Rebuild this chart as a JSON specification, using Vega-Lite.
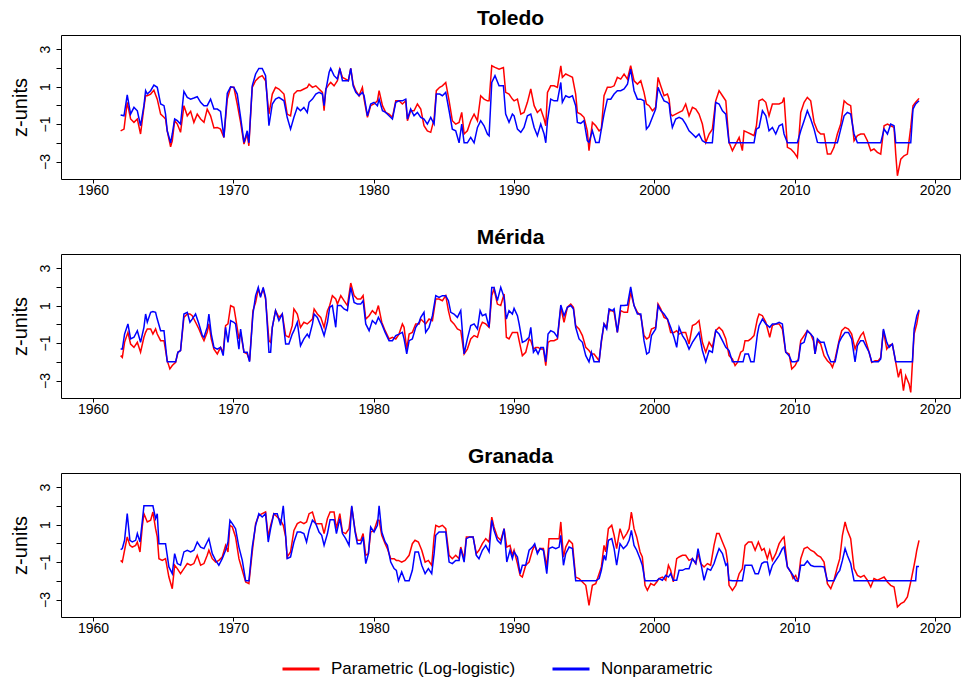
{
"$schema": "https://vega.github.io/schema/vega-lite/v6.json",
"padding": {"left": 9, "top": 7, "right": 0, "bottom": 0},
"config": {
"font": "Liberation Sans",
"view": {"stroke": "#000000", "strokeWidth": 1},
"axis": {"domain": false, "grid": false, "tickColor": "#000000", "tickSize": 5, "labelColor": "#000000", "labelFontSize": 14, "titleColor": "#000000", "labelOverlap": false},
"title": {"fontSize": 21, "fontWeight": "bold", "color": "#000000", "offset": 6, "anchor": "middle"}
},
"datasets": {
"toledo": [
{"t":1961.97,"p":-1.36,"n":-0.52},{"t":1962.21,"p":-1.27,"n":-0.56},{"t":1962.44,"p":0.16,"n":0.56},{"t":1962.68,"p":-0.73,"n":-0.47},{"t":1962.92,"p":-0.91,"n":-0.11},{"t":1963.16,"p":-0.73,"n":-0.29},{"t":1963.39,"p":-1.53,"n":-1.09},{"t":1963.63,"p":-0.11,"n":-0.02},{"t":1963.75,"p":0.51,"n":0.78},{"t":1963.87,"p":0.51,"n":0.6},{"t":1964.11,"p":0.6,"n":0.78},{"t":1964.34,"p":0.81,"n":1.08},{"t":1964.58,"p":0.33,"n":0.96},{"t":1964.82,"p":-0.47,"n":0.07},{"t":1965.06,"p":-0.64,"n":-0.02},{"t":1965.17,"p":-0.73,"n":-0.47},{"t":1965.29,"p":-1.36,"n":-1.36},{"t":1965.53,"p":-2.21,"n":-2.0},{"t":1965.65,"p":-1.89,"n":-1.53},{"t":1965.82,"p":-0.82,"n":-0.73},{"t":1966.01,"p":-1.0,"n":-0.82},{"t":1966.24,"p":-1.44,"n":-1.0},{"t":1966.48,"p":-0.02,"n":0.74},{"t":1966.72,"p":-0.56,"n":0.42},{"t":1966.96,"p":-0.32,"n":0.33},{"t":1967.19,"p":-0.91,"n":0.39},{"t":1967.43,"p":-0.47,"n":0.46},{"t":1967.67,"p":-0.73,"n":0.16},{"t":1967.91,"p":-0.91,"n":-0.02},{"t":1968.14,"p":-0.2,"n":-0.02},{"t":1968.38,"p":-0.56,"n":0.33},{"t":1968.62,"p":-1.21,"n":-0.2},{"t":1968.86,"p":-1.18,"n":-0.2},{"t":1969.09,"p":-1.27,"n":-0.32},{"t":1969.33,"p":-1.71,"n":-1.71},{"t":1969.57,"p":0.33,"n":0.64},{"t":1969.81,"p":0.96,"n":0.99},{"t":1970.04,"p":0.96,"n":0.96},{"t":1970.28,"p":0.07,"n":0.6},{"t":1970.52,"p":-0.91,"n":-0.64},{"t":1970.76,"p":-2.07,"n":-1.98},{"t":1970.99,"p":-1.53,"n":-1.36},{"t":1971.11,"p":-2.16,"n":-2.0},{"t":1971.35,"p":0.96,"n":1.04},{"t":1971.59,"p":1.31,"n":1.67},{"t":1971.82,"p":1.49,"n":1.97},{"t":1972.06,"p":1.58,"n":1.97},{"t":1972.3,"p":1.31,"n":1.58},{"t":1972.54,"p":-0.47,"n":-1.09},{"t":1972.78,"p":0.6,"n":0.07},{"t":1973.01,"p":0.96,"n":0.33},{"t":1973.25,"p":0.87,"n":0.42},{"t":1973.61,"p":0.6,"n":0.24},{"t":1973.84,"p":-0.47,"n":-0.64},{"t":1974.08,"p":-0.56,"n":-1.27},{"t":1974.32,"p":0.6,"n":-0.64},{"t":1974.56,"p":0.78,"n":-0.11},{"t":1974.79,"p":0.78,"n":-0.29},{"t":1975.03,"p":0.87,"n":-0.11},{"t":1975.27,"p":0.96,"n":-0.38},
{"t":1975.4,"p":1.13,"n":0.16},{"t":1975.64,"p":0.96,"n":0.33},{"t":1975.88,"p":1.04,"n":0.6},{"t":1976.11,"p":0.87,"n":0.69},{"t":1976.35,"p":0.69,"n":0.6},{"t":1976.47,"p":-0.29,"n":-0.02},{"t":1976.59,"p":0.87,"n":0.78},{"t":1976.83,"p":1.13,"n":1.76},{"t":1976.94,"p":1.22,"n":1.97},{"t":1977.18,"p":1.04,"n":1.58},{"t":1977.42,"p":1.31,"n":1.4},{"t":1977.59,"p":1.93,"n":1.97},{"t":1977.78,"p":1.49,"n":1.31},{"t":1978.01,"p":1.4,"n":1.31},{"t":1978.2,"p":1.31,"n":1.31},{"t":1978.37,"p":1.97,"n":1.97},{"t":1978.54,"p":1.13,"n":1.04},{"t":1978.73,"p":0.78,"n":0.69},{"t":1978.96,"p":0.51,"n":0.51},{"t":1979.2,"p":0.96,"n":0.69},{"t":1979.32,"p":0.33,"n":0.51},{"t":1979.56,"p":-0.64,"n":-0.56},{"t":1979.79,"p":-0.02,"n":0.07},{"t":1980.03,"p":0.07,"n":0.16},{"t":1980.27,"p":0.24,"n":-0.02},{"t":1980.39,"p":0.78,"n":0.33},{"t":1980.63,"p":-0.02,"n":-0.29},{"t":1980.86,"p":-0.38,"n":-0.38},{"t":1981.1,"p":-0.47,"n":-0.56},{"t":1981.34,"p":-0.64,"n":-0.73},{"t":1981.58,"p":0.24,"n":0.16},{"t":1981.81,"p":0.24,"n":0.24},{"t":1982.05,"p":0.07,"n":0.24},{"t":1982.29,"p":0.24,"n":0.33},{"t":1982.41,"p":-0.82,"n":-0.73},{"t":1982.64,"p":-0.29,"n":-0.2},{"t":1982.88,"p":-0.29,"n":-0.56},{"t":1983.12,"p":0.07,"n":-0.38},{"t":1983.36,"p":-0.2,"n":-0.64},{"t":1983.59,"p":-1.09,"n":-0.73},{"t":1983.83,"p":-1.36,"n":-1.0},{"t":1984.07,"p":-1.44,"n":-0.64},{"t":1984.31,"p":-0.73,"n":-1.0},{"t":1984.47,"p":0.78,"n":0.6},{"t":1984.71,"p":0.96,"n":0.6},{"t":1984.9,"p":1.04,"n":0.51},{"t":1985.14,"p":1.22,"n":0.69},{"t":1985.38,"p":0.24,"n":-0.29},{"t":1985.61,"p":-0.82,"n":-1.27},{"t":1985.85,"p":-1.0,"n":-1.36},{"t":1986.09,"p":-0.91,"n":-2.0},{"t":1986.28,"p":-0.38,"n":-1.0},{"t":1986.45,"p":-1.53,"n":-2.0},{"t":1986.68,"p":-1.36,"n":-2.0},{"t":1986.92,"p":-0.82,"n":-1.71},{"t":1987.16,"p":-0.47,"n":-2.0},{"t":1987.4,"p":-0.82,"n":-1.18},{"t":1987.63,"p":0.51,"n":-0.82},{"t":1987.87,"p":0.33,"n":-1.09},{"t":1988.11,"p":0.24,"n":-1.53},{"t":1988.23,"p":0.24,"n":-1.62},{"t":1988.42,"p":2.11,"n":1.22},{"t":1988.65,"p":2.02,"n":1.58},{"t":1988.94,"p":1.93,"n":1.04},{"t":1989.25,"p":2.02,"n":1.04},{"t":1989.41,"p":0.69,"n":-0.47},{"t":1989.65,"p":0.6,"n":-0.91},{"t":1989.89,"p":0.33,"n":-0.47},
{"t":1990.01,"p":0.24,"n":-0.56},{"t":1990.25,"p":0.33,"n":-1.27},{"t":1990.49,"p":-0.47,"n":-1.44},{"t":1990.72,"p":-0.38,"n":-1.18},{"t":1990.96,"p":0.16,"n":-0.56},{"t":1991.2,"p":0.87,"n":-0.47},{"t":1991.44,"p":-0.02,"n":-1.18},{"t":1991.67,"p":-0.38,"n":-1.62},{"t":1991.91,"p":-0.2,"n":-1.0},{"t":1992.15,"p":-0.73,"n":-1.53},{"t":1992.27,"p":-1.09,"n":-2.0},{"t":1992.39,"p":0.69,"n":-0.82},{"t":1992.62,"p":1.04,"n":0.33},{"t":1992.86,"p":1.04,"n":0.24},{"t":1993.1,"p":0.96,"n":0.24},{"t":1993.34,"p":2.11,"n":1.22},{"t":1993.45,"p":1.49,"n":0.16},{"t":1993.69,"p":1.67,"n":0.51},{"t":1993.93,"p":1.58,"n":0.42},{"t":1994.17,"p":1.49,"n":0.51},{"t":1994.4,"p":0.6,"n":-0.02},{"t":1994.52,"p":-0.38,"n":-0.91},{"t":1994.76,"p":-0.47,"n":-0.96},{"t":1994.99,"p":-0.64,"n":-0.82},{"t":1995.23,"p":-1.36,"n":-1.89},{"t":1995.35,"p":-2.42,"n":-1.98},{"t":1995.59,"p":-0.91,"n":-1.36},{"t":1995.83,"p":-1.09,"n":-1.98},{"t":1996.07,"p":-1.36,"n":-1.98},{"t":1996.23,"p":-1.27,"n":-1.27},{"t":1996.42,"p":0.51,"n":-0.47},{"t":1996.66,"p":0.96,"n":0.33},{"t":1996.9,"p":0.96,"n":0.33},{"t":1997.14,"p":1.04,"n":0.6},{"t":1997.37,"p":1.49,"n":0.78},{"t":1997.61,"p":1.4,"n":0.78},{"t":1997.85,"p":1.67,"n":0.87},{"t":1998.09,"p":1.4,"n":1.13},{"t":1998.32,"p":2.11,"n":1.93},{"t":1998.56,"p":1.31,"n":0.78},{"t":1998.8,"p":1.13,"n":0.33},{"t":1999.04,"p":1.31,"n":0.33},{"t":1999.27,"p":0.69,"n":0.24},{"t":1999.44,"p":0.07,"n":-1.27},{"t":1999.63,"p":-0.02,"n":-1.09},{"t":1999.87,"p":-0.29,"n":-0.64},{"t":2000.1,"p":-0.11,"n":-0.2},{"t":2000.27,"p":1.49,"n":0.96},{"t":2000.46,"p":1.04,"n":0.6},{"t":2000.7,"p":0.51,"n":0.24},{"t":2000.94,"p":0.6,"n":0.16},{"t":2001.06,"p":0.33,"n":0.07},{"t":2001.17,"p":-0.47,"n":-0.64},{"t":2001.29,"p":-0.56,"n":-1.18},{"t":2001.53,"p":-0.47,"n":-0.73},{"t":2001.77,"p":-0.38,"n":-0.64},{"t":2002.01,"p":-0.29,"n":-0.73},{"t":2002.24,"p":0.07,"n":-1.0},{"t":2002.48,"p":-0.56,"n":-1.36},{"t":2002.72,"p":-0.11,"n":-1.53},{"t":2002.96,"p":-0.2,"n":-1.71},{"t":2003.19,"p":-0.47,"n":-1.53},{"t":2003.43,"p":-1.0,"n":-1.89},{"t":2003.67,"p":-1.98,"n":-2.0},{"t":2003.91,"p":-1.53,"n":-2.0},{"t":2004.14,"p":-1.27,"n":-2.0},{"t":2004.38,"p":0.24,"n":0.16},
{"t":2004.62,"p":0.78,"n":0.07},{"t":2004.86,"p":0.51,"n":-0.29},{"t":2005.1,"p":0.24,"n":-0.47},{"t":2005.33,"p":-1.98,"n":-2.0},{"t":2005.57,"p":-2.42,"n":-2.0},{"t":2005.81,"p":-2.07,"n":-2.0},{"t":2006.05,"p":-1.71,"n":-2.0},{"t":2006.28,"p":-2.42,"n":-2.0},{"t":2006.4,"p":-1.36,"n":-2.0},{"t":2006.64,"p":-1.44,"n":-2.0},{"t":2006.88,"p":-1.53,"n":-2.0},{"t":2007.11,"p":-1.62,"n":-2.0},{"t":2007.28,"p":-1.09,"n":-1.27},{"t":2007.47,"p":0.24,"n":-1.18},{"t":2007.71,"p":0.33,"n":-0.29},{"t":2007.95,"p":0.16,"n":-0.56},{"t":2008.18,"p":-0.56,"n":-1.36},{"t":2008.42,"p":0.07,"n":-1.18},{"t":2008.66,"p":0.07,"n":-1.53},{"t":2008.9,"p":0.07,"n":-1.09},{"t":2009.13,"p":0.16,"n":-1.0},{"t":2009.25,"p":0.42,"n":-1.53},{"t":2009.49,"p":-2.24,"n":-2.0},{"t":2009.73,"p":-2.33,"n":-2.0},{"t":2009.96,"p":-2.51,"n":-2.0},{"t":2010.2,"p":-2.78,"n":-2.0},{"t":2010.44,"p":-0.38,"n":-1.36},{"t":2010.68,"p":0.16,"n":-0.82},{"t":2010.91,"p":0.42,"n":-0.29},{"t":2011.15,"p":0.24,"n":-0.73},{"t":2011.39,"p":-0.91,"n":-1.27},{"t":2011.63,"p":-1.36,"n":-1.98},{"t":2011.86,"p":-1.53,"n":-2.0},{"t":2012.1,"p":-1.53,"n":-2.0},{"t":2012.34,"p":-2.6,"n":-2.0},{"t":2012.58,"p":-2.6,"n":-2.0},{"t":2012.81,"p":-2.24,"n":-2.0},{"t":2013.05,"p":-1.53,"n":-2.0},{"t":2013.29,"p":-1.0,"n":-1.27},{"t":2013.53,"p":0.24,"n":-0.56},{"t":2013.76,"p":0.07,"n":-0.38},{"t":2014.0,"p":-0.02,"n":-0.47},{"t":2014.24,"p":-1.89,"n":-1.53},{"t":2014.48,"p":-1.62,"n":-2.0},{"t":2014.71,"p":-1.53,"n":-2.0},{"t":2014.95,"p":-1.53,"n":-2.0},{"t":2015.19,"p":-1.89,"n":-2.0},{"t":2015.43,"p":-2.42,"n":-2.0},{"t":2015.66,"p":-2.33,"n":-2.0},{"t":2015.9,"p":-2.51,"n":-2.0},{"t":2016.14,"p":-2.6,"n":-2.0},{"t":2016.38,"p":-1.09,"n":-1.27},{"t":2016.62,"p":-1.0,"n":-1.53},{"t":2016.85,"p":-1.09,"n":-1.0},{"t":2017.09,"p":-1.18,"n":-1.09},{"t":2017.21,"p":-2.6,"n":-2.0},{"t":2017.33,"p":-3.76,"n":-2.0},{"t":2017.57,"p":-2.87,"n":-2.0},{"t":2017.8,"p":-2.69,"n":-2.0},{"t":2018.04,"p":-2.6,"n":-2.0},{"t":2018.28,"p":-1.18,"n":-2.0},{"t":2018.44,"p":-0.02,"n":-0.2},{"t":2018.63,"p":0.16,"n":0.07},{"t":2018.87,"p":0.37,"n":0.24}
],
"merida": [
{"t":1961.97,"p":-1.67,"n":-1.32},{"t":1962.09,"p":-1.76,"n":-1.32},{"t":1962.25,"p":-0.96,"n":-0.52},{"t":1962.49,"p":-0.43,"n":0.02},{"t":1962.68,"p":-1.05,"n":-0.78},{"t":1962.92,"p":-1.23,"n":-0.69},{"t":1963.16,"p":-0.96,"n":-0.34},{"t":1963.39,"p":-1.49,"n":-0.96},{"t":1963.63,"p":-0.69,"n":-0.16},{"t":1963.75,"p":-0.43,"n":0.55},{"t":1963.87,"p":-0.25,"n":0.11},{"t":1964.11,"p":-0.25,"n":0.64},{"t":1964.27,"p":-0.52,"n":0.68},{"t":1964.46,"p":-0.25,"n":0.64},{"t":1964.58,"p":-0.52,"n":0.28},{"t":1964.82,"p":-0.87,"n":-0.34},{"t":1965.06,"p":-0.87,"n":-0.34},{"t":1965.29,"p":-1.94,"n":-2.0},{"t":1965.48,"p":-2.38,"n":-2.0},{"t":1965.65,"p":-2.2,"n":-2.0},{"t":1965.89,"p":-2.03,"n":-2.0},{"t":1966.05,"p":-1.49,"n":-1.49},{"t":1966.24,"p":-1.4,"n":-1.4},{"t":1966.48,"p":0.37,"n":0.55},{"t":1966.72,"p":0.55,"n":0.64},{"t":1966.91,"p":0.55,"n":0.11},{"t":1967.07,"p":0.46,"n":0.28},{"t":1967.31,"p":0.11,"n":0.55},{"t":1967.55,"p":-0.25,"n":0.02},{"t":1967.79,"p":-0.69,"n":-0.6},{"t":1967.91,"p":-0.87,"n":-0.69},{"t":1968.14,"p":-0.43,"n":-0.16},{"t":1968.26,"p":0.02,"n":0.55},{"t":1968.43,"p":-0.78,"n":-0.52},{"t":1968.62,"p":-1.32,"n":-1.23},{"t":1968.86,"p":-1.58,"n":-1.32},{"t":1969.09,"p":-1.23,"n":-1.23},{"t":1969.28,"p":-1.49,"n":-1.67},{"t":1969.45,"p":-0.07,"n":-0.16},{"t":1969.62,"p":0.02,"n":-0.96},{"t":1969.81,"p":1.0,"n":0.2},{"t":1970.04,"p":0.91,"n":0.11},{"t":1970.16,"p":0.37,"n":0.02},{"t":1970.4,"p":-0.78,"n":-1.32},{"t":1970.52,"p":-0.43,"n":-0.25},{"t":1970.76,"p":-1.49,"n":-1.49},{"t":1970.99,"p":-1.58,"n":-1.49},{"t":1971.16,"p":-1.94,"n":-2.0},{"t":1971.4,"p":0.73,"n":0.55},{"t":1971.59,"p":1.17,"n":1.53},{"t":1971.78,"p":1.88,"n":1.97},{"t":1971.94,"p":1.53,"n":1.44},{"t":1972.13,"p":1.88,"n":1.97},{"t":1972.3,"p":1.35,"n":1.44},{"t":1972.54,"p":-0.87,"n":-1.49},{"t":1972.66,"p":-0.96,"n":-1.49},{"t":1972.78,"p":-0.16,"n":-0.16},{"t":1973.01,"p":0.73,"n":0.73},{"t":1973.25,"p":0.37,"n":0.2},{"t":1973.49,"p":0.55,"n":0.55},{"t":1973.73,"p":-0.6,"n":-1.05},{"t":1973.96,"p":-0.69,"n":-1.05},{"t":1974.2,"p":-0.07,"n":-0.52},{"t":1974.32,"p":0.82,"n":-0.34},{"t":1974.56,"p":0.55,"n":0.11},{"t":1974.79,"p":-0.16,"n":-1.14},{"t":1975.03,"p":0.11,"n":-0.78},{"t":1975.27,"p":0.02,"n":-0.52},
{"t":1975.4,"p":0.11,"n":-0.69},{"t":1975.64,"p":0.28,"n":0.02},{"t":1975.76,"p":0.82,"n":0.55},{"t":1975.99,"p":0.55,"n":0.37},{"t":1976.23,"p":0.37,"n":-0.07},{"t":1976.47,"p":-0.16,"n":-0.6},{"t":1976.71,"p":0.73,"n":0.11},{"t":1976.87,"p":1.0,"n":0.91},{"t":1977.06,"p":1.53,"n":1.0},{"t":1977.3,"p":1.35,"n":-0.16},{"t":1977.42,"p":1.08,"n":1.0},{"t":1977.66,"p":1.53,"n":1.0},{"t":1977.89,"p":1.26,"n":0.82},{"t":1978.13,"p":1.0,"n":0.73},{"t":1978.37,"p":2.2,"n":1.97},{"t":1978.61,"p":1.53,"n":1.17},{"t":1978.84,"p":1.35,"n":1.08},{"t":1979.08,"p":1.35,"n":1.08},{"t":1979.25,"p":1.53,"n":1.26},{"t":1979.44,"p":0.28,"n":0.02},{"t":1979.68,"p":0.46,"n":-0.34},{"t":1979.91,"p":0.73,"n":0.2},{"t":1980.15,"p":0.55,"n":0.02},{"t":1980.34,"p":1.0,"n":0.37},{"t":1980.58,"p":0.11,"n":0.02},{"t":1980.82,"p":-0.34,"n":-0.43},{"t":1981.1,"p":-0.78,"n":-0.87},{"t":1981.34,"p":-0.69,"n":-0.87},{"t":1981.58,"p":-0.78,"n":-0.6},{"t":1981.81,"p":-0.52,"n":-0.52},{"t":1982.05,"p":0.02,"n":-0.43},{"t":1982.17,"p":-0.16,"n":-0.78},{"t":1982.36,"p":-1.32,"n":-1.58},{"t":1982.53,"p":-0.52,"n":-0.87},{"t":1982.76,"p":-0.43,"n":-0.78},{"t":1983.0,"p":0.02,"n":-0.16},{"t":1983.24,"p":0.02,"n":0.11},{"t":1983.36,"p":0.28,"n":0.37},{"t":1983.59,"p":0.11,"n":0.64},{"t":1983.71,"p":0.02,"n":-0.43},{"t":1983.95,"p":0.28,"n":-0.16},{"t":1984.19,"p":0.2,"n":0.46},{"t":1984.43,"p":1.35,"n":1.53},{"t":1984.66,"p":1.35,"n":1.44},{"t":1984.9,"p":1.26,"n":1.53},{"t":1985.14,"p":1.53,"n":1.53},{"t":1985.33,"p":0.73,"n":1.26},{"t":1985.5,"p":0.2,"n":0.64},{"t":1985.73,"p":0.02,"n":0.55},{"t":1985.97,"p":-0.25,"n":0.37},{"t":1986.21,"p":-0.34,"n":0.73},{"t":1986.45,"p":-1.58,"n":-1.58},{"t":1986.68,"p":-1.32,"n":-0.78},{"t":1986.92,"p":-0.78,"n":-0.07},{"t":1987.16,"p":-0.6,"n":0.02},{"t":1987.4,"p":-0.69,"n":-0.25},{"t":1987.59,"p":-0.16,"n":0.73},{"t":1987.75,"p":0.11,"n":0.46},{"t":1987.99,"p":0.02,"n":0.55},{"t":1988.23,"p":-0.16,"n":-0.16},{"t":1988.42,"p":1.53,"n":1.97},{"t":1988.58,"p":1.88,"n":1.97},{"t":1988.82,"p":1.08,"n":1.26},{"t":1989.06,"p":1.0,"n":1.97},{"t":1989.3,"p":1.62,"n":1.44},{"t":1989.46,"p":-0.69,"n":0.28},{"t":1989.65,"p":-0.78,"n":0.73},{"t":1989.89,"p":-0.43,"n":0.55},
{"t":1990.01,"p":-0.43,"n":0.85},{"t":1990.25,"p":-0.43,"n":0.46},{"t":1990.37,"p":-0.87,"n":0.02},{"t":1990.6,"p":-1.67,"n":-0.96},{"t":1990.84,"p":-1.49,"n":-0.87},{"t":1991.08,"p":-0.78,"n":-0.69},{"t":1991.2,"p":-0.87,"n":-0.16},{"t":1991.39,"p":-1.32,"n":-1.49},{"t":1991.55,"p":-1.23,"n":-1.32},{"t":1991.72,"p":-1.23,"n":-1.58},{"t":1991.91,"p":-1.32,"n":-1.23},{"t":1992.1,"p":-1.32,"n":-1.23},{"t":1992.27,"p":-2.2,"n":-2.0},{"t":1992.43,"p":-0.96,"n":-0.52},{"t":1992.62,"p":-0.87,"n":-0.34},{"t":1992.86,"p":-0.87,"n":-0.43},{"t":1993.1,"p":-0.78,"n":-0.69},{"t":1993.34,"p":0.91,"n":1.03},{"t":1993.57,"p":0.11,"n":0.46},{"t":1993.81,"p":0.91,"n":0.91},{"t":1994.05,"p":1.08,"n":1.0},{"t":1994.24,"p":0.91,"n":0.82},{"t":1994.4,"p":-0.07,"n":-0.16},{"t":1994.64,"p":-0.25,"n":-0.78},{"t":1994.88,"p":-0.6,"n":-0.96},{"t":1995.12,"p":-1.23,"n":-1.67},{"t":1995.35,"p":-1.4,"n":-2.0},{"t":1995.52,"p":-1.58,"n":-1.49},{"t":1995.71,"p":-1.58,"n":-2.0},{"t":1996.07,"p":-1.94,"n":-2.0},{"t":1996.23,"p":-0.96,"n":-0.87},{"t":1996.42,"p":0.02,"n":0.02},{"t":1996.61,"p":-0.16,"n":-0.25},{"t":1996.78,"p":0.73,"n":0.82},{"t":1997.02,"p":0.73,"n":0.73},{"t":1997.14,"p":0.64,"n":0.82},{"t":1997.37,"p":-0.43,"n":-0.43},{"t":1997.61,"p":0.73,"n":1.0},{"t":1997.85,"p":0.64,"n":1.0},{"t":1998.09,"p":0.64,"n":1.03},{"t":1998.32,"p":1.71,"n":2.0},{"t":1998.56,"p":1.0,"n":1.0},{"t":1998.8,"p":0.64,"n":0.55},{"t":1999.04,"p":0.46,"n":0.55},{"t":1999.27,"p":-0.6,"n":-0.87},{"t":1999.46,"p":-0.78,"n":-1.58},{"t":1999.63,"p":-0.69,"n":-1.49},{"t":1999.8,"p":-0.25,"n":-0.6},{"t":2000.1,"p":-0.16,"n":-0.25},{"t":2000.27,"p":1.08,"n":1.0},{"t":2000.46,"p":0.82,"n":0.73},{"t":2000.7,"p":0.37,"n":0.55},{"t":2000.94,"p":0.28,"n":0.28},{"t":2001.17,"p":-0.43,"n":-0.16},{"t":2001.41,"p":-0.43,"n":-0.69},{"t":2001.6,"p":-0.34,"n":-1.23},{"t":2001.77,"p":-0.52,"n":-0.16},{"t":2002.01,"p":-0.43,"n":-0.6},{"t":2002.24,"p":-0.43,"n":-0.87},{"t":2002.48,"p":-1.05,"n":-1.32},{"t":2002.72,"p":-0.07,"n":-0.96},{"t":2002.96,"p":0.02,"n":-0.69},{"t":2003.19,"p":0.2,"n":-0.43},{"t":2003.43,"p":-0.96,"n":-1.4},{"t":2003.67,"p":-1.49,"n":-2.0},{"t":2003.91,"p":-0.96,"n":-1.4},{"t":2004.14,"p":-1.23,"n":-1.49},{"t":2004.38,"p":-0.34,"n":-0.34},
{"t":2004.62,"p":-0.16,"n":-0.52},{"t":2004.86,"p":-0.34,"n":-0.87},{"t":2005.1,"p":-0.78,"n":-1.23},{"t":2005.33,"p":-1.67,"n":-1.4},{"t":2005.57,"p":-1.85,"n":-2.0},{"t":2005.76,"p":-2.2,"n":-2.0},{"t":2005.93,"p":-2.03,"n":-2.0},{"t":2006.16,"p":-1.49,"n":-2.0},{"t":2006.33,"p":-1.4,"n":-2.0},{"t":2006.47,"p":-0.87,"n":-1.58},{"t":2006.71,"p":-0.87,"n":-1.58},{"t":2006.88,"p":-0.78,"n":-2.0},{"t":2007.11,"p":-0.6,"n":-2.0},{"t":2007.35,"p":0.28,"n":-0.52},{"t":2007.47,"p":0.55,"n":-0.07},{"t":2007.71,"p":0.46,"n":0.28},{"t":2007.95,"p":0.11,"n":0.02},{"t":2008.23,"p":-0.69,"n":-0.16},{"t":2008.42,"p":-0.07,"n":0.02},{"t":2008.66,"p":0.02,"n":0.02},{"t":2008.9,"p":0.02,"n":0.11},{"t":2009.13,"p":-0.25,"n":0.02},{"t":2009.37,"p":-1.49,"n":-1.49},{"t":2009.61,"p":-1.58,"n":-1.67},{"t":2009.8,"p":-2.38,"n":-2.0},{"t":2010.04,"p":-2.2,"n":-2.0},{"t":2010.27,"p":-1.85,"n":-1.94},{"t":2010.44,"p":-0.87,"n":-1.05},{"t":2010.68,"p":-0.6,"n":-0.96},{"t":2010.91,"p":-0.34,"n":-0.34},{"t":2011.15,"p":-0.52,"n":-0.52},{"t":2011.34,"p":-0.87,"n":-0.69},{"t":2011.46,"p":-1.58,"n":-1.58},{"t":2011.63,"p":-0.87,"n":-0.78},{"t":2011.86,"p":-1.05,"n":-0.96},{"t":2012.1,"p":-1.67,"n":-0.96},{"t":2012.34,"p":-1.94,"n":-1.58},{"t":2012.58,"p":-2.12,"n":-2.0},{"t":2012.7,"p":-2.29,"n":-2.0},{"t":2012.89,"p":-1.85,"n":-2.0},{"t":2013.17,"p":-0.87,"n":-0.96},{"t":2013.36,"p":-0.34,"n":-0.69},{"t":2013.6,"p":-0.16,"n":-0.43},{"t":2013.84,"p":-0.25,"n":-0.43},{"t":2014.07,"p":-0.52,"n":-0.78},{"t":2014.31,"p":-1.32,"n":-2.0},{"t":2014.48,"p":-0.96,"n":-1.14},{"t":2014.71,"p":-0.6,"n":-0.87},{"t":2014.9,"p":-0.43,"n":-0.87},{"t":2015.07,"p":-0.87,"n":-1.14},{"t":2015.31,"p":-1.49,"n":-1.49},{"t":2015.5,"p":-2.03,"n":-2.0},{"t":2015.74,"p":-1.94,"n":-2.0},{"t":2015.97,"p":-1.94,"n":-2.0},{"t":2016.14,"p":-1.76,"n":-1.85},{"t":2016.33,"p":-0.34,"n":-0.25},{"t":2016.57,"p":-1.32,"n":-0.96},{"t":2016.73,"p":-1.14,"n":-1.23},{"t":2016.97,"p":-1.05,"n":-1.05},{"t":2017.21,"p":-2.03,"n":-2.0},{"t":2017.4,"p":-2.83,"n":-2.0},{"t":2017.57,"p":-2.38,"n":-2.0},{"t":2017.76,"p":-3.54,"n":-2.0},{"t":2017.92,"p":-2.74,"n":-2.0},{"t":2018.16,"p":-3.18,"n":-2.0},{"t":2018.28,"p":-3.63,"n":-2.0},{"t":2018.4,"p":-2.03,"n":-2.0},{"t":2018.52,"p":-0.52,"n":-0.25},{"t":2018.71,"p":0.02,"n":0.46},{"t":2018.87,"p":0.73,"n":0.78}
],
"granada": [
{"t":1961.97,"p":-0.91,"n":-0.34},{"t":1962.09,"p":-1.0,"n":-0.28},{"t":1962.25,"p":-0.37,"n":0.16},{"t":1962.44,"p":0.34,"n":1.58},{"t":1962.63,"p":-0.11,"n":0.16},{"t":1962.8,"p":-0.2,"n":0.07},{"t":1963.04,"p":-0.11,"n":0.16},{"t":1963.16,"p":0.07,"n":0.52},{"t":1963.35,"p":-0.46,"n":0.07},{"t":1963.51,"p":0.87,"n":1.14},{"t":1963.63,"p":1.58,"n":2.0},{"t":1963.87,"p":1.14,"n":2.0},{"t":1964.11,"p":1.23,"n":2.0},{"t":1964.27,"p":1.67,"n":2.0},{"t":1964.46,"p":0.78,"n":1.32},{"t":1964.58,"p":0.34,"n":1.58},{"t":1964.7,"p":-0.82,"n":-0.02},{"t":1964.94,"p":-0.91,"n":-0.02},{"t":1965.17,"p":-0.82,"n":-0.02},{"t":1965.41,"p":-1.8,"n":-1.26},{"t":1965.65,"p":-2.42,"n":-1.62},{"t":1965.82,"p":-1.17,"n":-0.55},{"t":1966.01,"p":-1.35,"n":-1.08},{"t":1966.24,"p":-1.62,"n":-1.17},{"t":1966.48,"p":-1.35,"n":-0.46},{"t":1966.72,"p":-1.08,"n":-0.37},{"t":1966.96,"p":-1.17,"n":-0.46},{"t":1967.19,"p":-1.08,"n":-0.37},{"t":1967.43,"p":-0.64,"n":0.07},{"t":1967.67,"p":-1.17,"n":-0.2},{"t":1967.91,"p":-1.08,"n":-0.28},{"t":1968.14,"p":-0.64,"n":0.07},{"t":1968.26,"p":-0.37,"n":0.25},{"t":1968.5,"p":-0.82,"n":-0.55},{"t":1968.74,"p":-1.0,"n":-0.91},{"t":1968.97,"p":-0.91,"n":-1.17},{"t":1969.21,"p":-0.73,"n":-0.82},{"t":1969.45,"p":-0.11,"n":-0.37},{"t":1969.62,"p":-0.46,"n":0.07},{"t":1969.76,"p":0.96,"n":1.23},{"t":1969.93,"p":0.87,"n":1.05},{"t":1970.16,"p":0.34,"n":0.78},{"t":1970.4,"p":-0.82,"n":-0.2},{"t":1970.64,"p":-1.44,"n":-0.91},{"t":1970.88,"p":-2.06,"n":-2.0},{"t":1971.11,"p":-2.15,"n":-2.0},{"t":1971.35,"p":-0.46,"n":-0.2},{"t":1971.59,"p":1.05,"n":0.96},{"t":1971.82,"p":1.49,"n":1.58},{"t":1972.06,"p":1.58,"n":1.4},{"t":1972.3,"p":1.67,"n":1.58},{"t":1972.49,"p":0.34,"n":0.07},{"t":1972.66,"p":0.96,"n":0.78},{"t":1972.89,"p":1.58,"n":1.58},{"t":1973.13,"p":1.4,"n":1.58},{"t":1973.37,"p":1.23,"n":0.96},{"t":1973.56,"p":0.96,"n":2.0},{"t":1973.73,"p":0.34,"n":0.43},{"t":1973.84,"p":-0.73,"n":-0.82},{"t":1974.08,"p":-0.46,"n":-0.73},{"t":1974.32,"p":0.69,"n":0.07},{"t":1974.56,"p":1.05,"n":0.6},{"t":1974.79,"p":1.14,"n":0.6},{"t":1975.03,"p":1.05,"n":0.52},{"t":1975.22,"p":1.14,"n":0.07},
{"t":1975.4,"p":1.58,"n":0.69},{"t":1975.64,"p":1.67,"n":1.23},{"t":1975.88,"p":1.05,"n":1.05},{"t":1976.11,"p":1.05,"n":0.6},{"t":1976.3,"p":1.05,"n":0.43},{"t":1976.47,"p":0.52,"n":-0.11},{"t":1976.71,"p":1.32,"n":0.52},{"t":1976.9,"p":1.67,"n":1.26},{"t":1977.18,"p":1.67,"n":1.26},{"t":1977.35,"p":0.78,"n":0.52},{"t":1977.59,"p":1.58,"n":1.32},{"t":1977.78,"p":0.6,"n":0.52},{"t":1978.01,"p":0.52,"n":0.25},{"t":1978.25,"p":0.78,"n":-0.11},{"t":1978.44,"p":1.94,"n":2.0},{"t":1978.68,"p":0.69,"n":0.6},{"t":1978.84,"p":0.16,"n":-0.02},{"t":1979.08,"p":0.16,"n":-0.02},{"t":1979.25,"p":0.52,"n":0.34},{"t":1979.44,"p":-0.64,"n":-1.08},{"t":1979.63,"p":-0.55,"n":-0.55},{"t":1979.79,"p":0.6,"n":0.87},{"t":1980.03,"p":0.69,"n":0.6},{"t":1980.27,"p":1.23,"n":0.96},{"t":1980.39,"p":1.23,"n":2.0},{"t":1980.58,"p":0.43,"n":0.6},{"t":1980.82,"p":-0.02,"n":0.07},{"t":1980.98,"p":-0.28,"n":-0.11},{"t":1981.22,"p":-0.82,"n":-1.0},{"t":1981.46,"p":-0.82,"n":-1.35},{"t":1981.62,"p":-0.91,"n":-1.44},{"t":1981.77,"p":-0.91,"n":-2.0},{"t":1982.0,"p":-1.0,"n":-1.53},{"t":1982.24,"p":-0.91,"n":-2.0},{"t":1982.53,"p":-0.64,"n":-2.0},{"t":1982.76,"p":-0.02,"n":-1.44},{"t":1982.95,"p":0.16,"n":-0.46},{"t":1983.19,"p":0.07,"n":-0.46},{"t":1983.43,"p":-0.37,"n":-1.17},{"t":1983.67,"p":-1.0,"n":-1.62},{"t":1983.9,"p":-0.91,"n":-1.35},{"t":1984.14,"p":-1.17,"n":-1.62},{"t":1984.31,"p":0.34,"n":-0.55},{"t":1984.43,"p":0.96,"n":0.43},{"t":1984.66,"p":0.87,"n":0.6},{"t":1984.9,"p":0.96,"n":0.6},{"t":1985.14,"p":0.78,"n":0.6},{"t":1985.38,"p":-0.64,"n":-1.0},{"t":1985.61,"p":-0.82,"n":-1.08},{"t":1985.85,"p":-0.64,"n":-0.91},{"t":1986.09,"p":-0.82,"n":-0.91},{"t":1986.21,"p":-0.2,"n":-0.28},{"t":1986.45,"p":-0.82,"n":-1.0},{"t":1986.61,"p":0.34,"n":0.25},{"t":1986.85,"p":0.34,"n":0.34},{"t":1987.09,"p":0.34,"n":0.34},{"t":1987.32,"p":-0.55,"n":-0.64},{"t":1987.51,"p":-0.37,"n":-0.82},{"t":1987.75,"p":-0.02,"n":-0.37},{"t":1987.99,"p":0.25,"n":-0.11},{"t":1988.23,"p":0.07,"n":-0.46},{"t":1988.42,"p":1.4,"n":1.23},{"t":1988.58,"p":0.87,"n":0.69},{"t":1988.82,"p":0.34,"n":0.16},{"t":1989.06,"p":0.16,"n":-0.02},{"t":1989.3,"p":0.78,"n":0.78},{"t":1989.49,"p":-0.2,"n":-1.0},{"t":1989.72,"p":-0.11,"n":-0.37},{"t":1989.89,"p":-0.64,"n":-0.82},
{"t":1990.01,"p":-0.37,"n":-0.46},{"t":1990.25,"p":-1.08,"n":-0.73},{"t":1990.44,"p":-1.71,"n":-1.62},{"t":1990.6,"p":-1.8,"n":-1.17},{"t":1990.84,"p":-1.17,"n":-1.17},{"t":1991.08,"p":-1.0,"n":-0.37},{"t":1991.32,"p":-0.37,"n":-0.2},{"t":1991.48,"p":-0.11,"n":-0.02},{"t":1991.67,"p":-0.46,"n":-0.55},{"t":1991.86,"p":-0.28,"n":-0.28},{"t":1992.1,"p":-0.28,"n":-0.37},{"t":1992.34,"p":-1.26,"n":-1.62},{"t":1992.5,"p":0.25,"n":-0.28},{"t":1992.74,"p":0.25,"n":-0.2},{"t":1992.98,"p":0.25,"n":-0.28},{"t":1993.22,"p":0.25,"n":-0.2},{"t":1993.34,"p":1.14,"n":0.43},{"t":1993.53,"p":-0.73,"n":-1.17},{"t":1993.69,"p":-0.2,"n":-0.55},{"t":1993.93,"p":0.16,"n":-0.2},{"t":1994.17,"p":-0.02,"n":-0.28},{"t":1994.4,"p":-1.8,"n":-2.0},{"t":1994.64,"p":-1.88,"n":-2.0},{"t":1994.88,"p":-2.06,"n":-2.0},{"t":1995.12,"p":-2.24,"n":-2.0},{"t":1995.35,"p":-3.31,"n":-2.0},{"t":1995.59,"p":-2.24,"n":-2.0},{"t":1995.83,"p":-2.15,"n":-2.0},{"t":1996.07,"p":-1.62,"n":-1.88},{"t":1996.23,"p":-1.26,"n":-1.44},{"t":1996.42,"p":-0.11,"n":-0.64},{"t":1996.54,"p":-0.46,"n":-0.91},{"t":1996.73,"p":0.78,"n":0.16},{"t":1996.97,"p":0.96,"n":0.25},{"t":1997.14,"p":0.43,"n":-0.28},{"t":1997.32,"p":-0.28,"n":-1.17},{"t":1997.56,"p":0.78,"n":-0.02},{"t":1997.8,"p":0.25,"n":-0.28},{"t":1998.04,"p":0.52,"n":-0.11},{"t":1998.21,"p":0.78,"n":0.16},{"t":1998.37,"p":1.67,"n":0.69},{"t":1998.56,"p":0.78,"n":-0.11},{"t":1998.75,"p":0.34,"n":-0.37},{"t":1998.99,"p":-0.46,"n":-0.82},{"t":1999.15,"p":-0.73,"n":-1.17},{"t":1999.34,"p":-2.24,"n":-2.0},{"t":1999.51,"p":-2.51,"n":-2.0},{"t":1999.75,"p":-2.15,"n":-2.0},{"t":1999.99,"p":-2.24,"n":-2.0},{"t":2000.18,"p":-2.06,"n":-2.0},{"t":2000.34,"p":-1.88,"n":-1.88},{"t":2000.58,"p":-1.8,"n":-1.97},{"t":2000.82,"p":-1.97,"n":-1.71},{"t":2001.01,"p":-1.17,"n":-1.8},{"t":2001.17,"p":-1.44,"n":-1.62},{"t":2001.36,"p":-2.06,"n":-1.97},{"t":2001.6,"p":-0.82,"n":-1.97},{"t":2001.77,"p":-0.73,"n":-1.44},{"t":2002.01,"p":-0.64,"n":-1.44},{"t":2002.24,"p":-0.64,"n":-1.35},{"t":2002.48,"p":-0.91,"n":-1.35},{"t":2002.72,"p":-0.82,"n":-0.82},{"t":2002.96,"p":-1.08,"n":-1.08},{"t":2003.12,"p":-0.55,"n":-0.28},{"t":2003.31,"p":-1.08,"n":-1.0},{"t":2003.55,"p":-1.26,"n":-1.97},{"t":2003.79,"p":-1.08,"n":-1.35},{"t":2004.02,"p":-1.17,"n":-1.44},{"t":2004.26,"p":-0.11,"n":-1.08},{"t":2004.45,"p":0.52,"n":-0.64},
{"t":2004.62,"p":0.52,"n":-0.28},{"t":2004.86,"p":0.07,"n":-0.55},{"t":2005.1,"p":-0.37,"n":-1.17},{"t":2005.21,"p":-0.91,"n":-1.08},{"t":2005.33,"p":-2.24,"n":-1.97},{"t":2005.57,"p":-2.51,"n":-2.0},{"t":2005.81,"p":-2.24,"n":-2.0},{"t":2006.05,"p":-1.62,"n":-2.0},{"t":2006.28,"p":-1.35,"n":-2.0},{"t":2006.47,"p":-0.11,"n":-1.17},{"t":2006.71,"p":0.07,"n":-1.17},{"t":2006.95,"p":0.07,"n":-1.17},{"t":2007.19,"p":-0.37,"n":-1.62},{"t":2007.42,"p":0.07,"n":-1.62},{"t":2007.66,"p":-0.37,"n":-1.08},{"t":2007.83,"p":-0.28,"n":-1.0},{"t":2008.06,"p":-0.82,"n":-1.0},{"t":2008.23,"p":-0.37,"n":-1.62},{"t":2008.42,"p":-0.91,"n":-1.17},{"t":2008.66,"p":-0.55,"n":-0.91},{"t":2008.9,"p":-0.02,"n":-0.64},{"t":2009.13,"p":0.25,"n":-0.28},{"t":2009.25,"p":0.34,"n":-0.2},{"t":2009.49,"p":-1.26,"n":-1.26},{"t":2009.73,"p":-1.53,"n":-1.53},{"t":2009.89,"p":-1.88,"n":-1.71},{"t":2010.08,"p":-1.71,"n":-2.0},{"t":2010.25,"p":-2.06,"n":-2.0},{"t":2010.44,"p":-0.82,"n":-1.17},{"t":2010.68,"p":-0.28,"n":-1.17},{"t":2010.91,"p":-0.2,"n":-0.94},{"t":2011.15,"p":-0.37,"n":-1.17},{"t":2011.39,"p":-0.46,"n":-1.23},{"t":2011.63,"p":-0.64,"n":-1.23},{"t":2011.86,"p":-0.73,"n":-1.23},{"t":2012.1,"p":-1.0,"n":-1.26},{"t":2012.34,"p":-2.15,"n":-2.0},{"t":2012.58,"p":-2.42,"n":-2.0},{"t":2012.81,"p":-1.97,"n":-2.0},{"t":2013.05,"p":-1.26,"n":-1.62},{"t":2013.22,"p":-0.82,"n":-1.44},{"t":2013.41,"p":0.43,"n":-0.91},{"t":2013.6,"p":1.14,"n":-0.28},{"t":2013.76,"p":0.69,"n":-0.64},{"t":2014.0,"p":0.25,"n":-1.08},{"t":2014.24,"p":-1.35,"n":-2.0},{"t":2014.48,"p":-1.71,"n":-2.0},{"t":2014.71,"p":-1.8,"n":-2.0},{"t":2014.95,"p":-1.71,"n":-2.0},{"t":2015.19,"p":-1.97,"n":-2.0},{"t":2015.43,"p":-2.33,"n":-2.0},{"t":2015.66,"p":-1.88,"n":-2.0},{"t":2015.9,"p":-1.97,"n":-2.0},{"t":2016.14,"p":-1.88,"n":-2.0},{"t":2016.38,"p":-1.8,"n":-2.0},{"t":2016.62,"p":-2.06,"n":-2.0},{"t":2016.85,"p":-2.24,"n":-2.0},{"t":2017.09,"p":-2.33,"n":-2.0},{"t":2017.33,"p":-3.4,"n":-2.0},{"t":2017.57,"p":-3.22,"n":-2.0},{"t":2017.8,"p":-3.13,"n":-2.0},{"t":2018.04,"p":-2.86,"n":-2.0},{"t":2018.28,"p":-2.06,"n":-2.0},{"t":2018.52,"p":-1.17,"n":-2.0},{"t":2018.63,"p":-0.73,"n":-2.0},{"t":2018.71,"p":-0.37,"n":-1.23},{"t":2018.87,"p":0.16,"n":-1.23}
]
},
"spacing": 75,
"bounds": "flush",
"resolve": {"scale": {"color": "shared"}, "legend": {"color": "shared"}},
"vconcat": [
{
"width": 899, "height": 144,
"title": "Toledo",
"data": {"name": "toledo"},
"encoding": {"x": {"field": "t", "type": "quantitative", "scale": {"domain": [1957.72, 2021.79], "nice": false, "zero": false}, "axis": {"values": [1960, 1970, 1980, 1990, 2000, 2010, 2020], "format": "d", "title": null, "labelPadding": 0, "tickSize": 4}}},
"layer": [
{"mark": {"type": "line", "strokeWidth": 1.5, "clip": true}, "encoding": {"y": {"field": "p", "type": "quantitative", "scale": {"domain": [-3.93, 3.75], "nice": false, "zero": false}, "axis": {"values": [-3, -2, -1, 0, 1, 2, 3], "labelExpr": "datum.value % 2 === 0 ? '' : datum.label", "labelAngle": -90, "labelAlign": "center", "labelBaseline": "bottom", "labelPadding": 4, "title": "z-units", "titleFontSize": 20, "titleFontWeight": "normal", "titlePadding": 8}}, "color": {"datum": "Parametric (Log-logistic)", "type": "nominal", "scale": {"domain": ["Parametric (Log-logistic)", "Nonparametric"], "range": ["#ff0000", "#0000ff"]}, "legend": {"orient": "none", "legendX": 220, "legendY": 614, "direction": "horizontal", "title": null, "symbolType": "stroke", "symbolStrokeWidth": 3, "symbolSize": 1369, "labelFontSize": 17, "labelOffset": 10, "labelLimit": 0, "columnPadding": 30, "padding": 0, "labelColor": "#000000"}}}},
{"mark": {"type": "line", "strokeWidth": 1.5, "clip": true}, "encoding": {"y": {"field": "n", "type": "quantitative", "scale": {"domain": [-3.93, 3.75], "nice": false, "zero": false}, "axis": {"values": [-3, -2, -1, 0, 1, 2, 3], "labelExpr": "datum.value % 2 === 0 ? '' : datum.label", "labelAngle": -90, "labelAlign": "center", "labelBaseline": "bottom", "labelPadding": 4, "title": "z-units", "titleFontSize": 20, "titleFontWeight": "normal", "titlePadding": 8}}, "color": {"datum": "Nonparametric", "type": "nominal"}}}
]
},
{
"width": 899, "height": 144,
"title": "Mérida",
"data": {"name": "merida"},
"encoding": {"x": {"field": "t", "type": "quantitative", "scale": {"domain": [1957.72, 2021.79], "nice": false, "zero": false}, "axis": {"values": [1960, 1970, 1980, 1990, 2000, 2010, 2020], "format": "d", "title": null, "labelPadding": 0, "tickSize": 4}}},
"layer": [
{"mark": {"type": "line", "strokeWidth": 1.5, "clip": true}, "encoding": {"y": {"field": "p", "type": "quantitative", "scale": {"domain": [-3.93, 3.75], "nice": false, "zero": false}, "axis": {"values": [-3, -2, -1, 0, 1, 2, 3], "labelExpr": "datum.value % 2 === 0 ? '' : datum.label", "labelAngle": -90, "labelAlign": "center", "labelBaseline": "bottom", "labelPadding": 4, "title": "z-units", "titleFontSize": 20, "titleFontWeight": "normal", "titlePadding": 8}}, "color": {"datum": "Parametric (Log-logistic)", "type": "nominal"}}},
{"mark": {"type": "line", "strokeWidth": 1.5, "clip": true}, "encoding": {"y": {"field": "n", "type": "quantitative", "scale": {"domain": [-3.93, 3.75], "nice": false, "zero": false}, "axis": {"values": [-3, -2, -1, 0, 1, 2, 3], "labelExpr": "datum.value % 2 === 0 ? '' : datum.label", "labelAngle": -90, "labelAlign": "center", "labelBaseline": "bottom", "labelPadding": 4, "title": "z-units", "titleFontSize": 20, "titleFontWeight": "normal", "titlePadding": 8}}, "color": {"datum": "Nonparametric", "type": "nominal"}}}
]
},
{
"width": 899, "height": 144,
"title": "Granada",
"data": {"name": "granada"},
"encoding": {"x": {"field": "t", "type": "quantitative", "scale": {"domain": [1957.72, 2021.79], "nice": false, "zero": false}, "axis": {"values": [1960, 1970, 1980, 1990, 2000, 2010, 2020], "format": "d", "title": null, "labelPadding": 0, "tickSize": 4}}},
"layer": [
{"mark": {"type": "line", "strokeWidth": 1.5, "clip": true}, "encoding": {"y": {"field": "p", "type": "quantitative", "scale": {"domain": [-3.93, 3.75], "nice": false, "zero": false}, "axis": {"values": [-3, -2, -1, 0, 1, 2, 3], "labelExpr": "datum.value % 2 === 0 ? '' : datum.label", "labelAngle": -90, "labelAlign": "center", "labelBaseline": "bottom", "labelPadding": 4, "title": "z-units", "titleFontSize": 20, "titleFontWeight": "normal", "titlePadding": 8}}, "color": {"datum": "Parametric (Log-logistic)", "type": "nominal"}}},
{"mark": {"type": "line", "strokeWidth": 1.5, "clip": true}, "encoding": {"y": {"field": "n", "type": "quantitative", "scale": {"domain": [-3.93, 3.75], "nice": false, "zero": false}, "axis": {"values": [-3, -2, -1, 0, 1, 2, 3], "labelExpr": "datum.value % 2 === 0 ? '' : datum.label", "labelAngle": -90, "labelAlign": "center", "labelBaseline": "bottom", "labelPadding": 4, "title": "z-units", "titleFontSize": 20, "titleFontWeight": "normal", "titlePadding": 8}}, "color": {"datum": "Nonparametric", "type": "nominal"}}}
]
}
]
}
